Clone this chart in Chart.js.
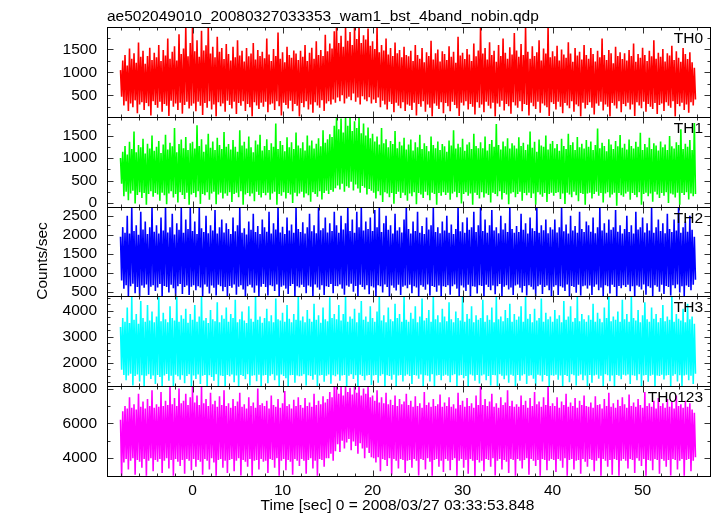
<!DOCTYPE html>
<html>
<head>
<meta charset="utf-8">
<title>ae502049010 WAM light curve</title>
<script src="https://cdn.jsdelivr.net/npm/chart.js@4/dist/chart.umd.min.js"></script>
<style>
  html, body { margin: 0; padding: 0; background: #fff; }
  #wrap { width: 717px; height: 516px; }
</style>
</head>
<body>
<div id="wrap"><canvas id="lc" width="717" height="516"></canvas></div>
<script>
// ---- data (0.25 s bins, upper / lower extent of the noisy curve) ----
const TITLE = 'ae502049010_20080327033353_wam1_bst_4band_nobin.qdp';
const X_TITLE = 'Time [sec] 0 = 2008/03/27 03:33:53.848';
const Y_TITLE = 'Counts/sec';
const PANELS = ['TH0', 'TH1', 'TH2', 'TH3', 'TH0123'];
const T_START = -8;    // first bin [sec]
const T_STEP = 0.25;   // bin width [sec]

const X_RANGE = [-9.5, 57.6];
const X_TICKS = [0, 10, 20, 30, 40, 50];

const th0Range = [31, 1991];
const th1Range = [-81, 1918];
const th2Range = [386, 2738];
const th3Range = [1099, 4559];
const th0123Range = [2974, 8133];

const th0Ticks = [500, 1000, 1500];
const th1Ticks = [0, 500, 1000, 1500];
const th2Ticks = [500, 1000, 1500, 2000, 2500];
const th3Ticks = [2000, 3000, 4000];
const th0123Ticks = [4000, 6000, 8000];

const th0Hi = [
  1050, 1260, 1380, 1150, 1520, 1300, 1420, 1210, 1650, 1340, 1470, 1190, 1360, 1540, 1270, 1430,
  1330, 1600, 1250, 1490, 1370, 1740, 1300, 1450, 1570, 1260, 1830, 1400, 1520, 1990, 1350, 1640,
  1990, 1460, 1700, 1340, 1910, 1480, 1590, 1990, 1410, 1560, 1330, 1780, 1450, 1530, 1290, 1620,
  1400, 1260, 1560, 1330, 1700, 1370, 1470, 1240, 1530, 1350, 1410, 1640, 1280, 1490, 1360, 1450,
  1310, 1740, 1390, 1250, 1510, 1360, 1870, 1300, 1440, 1220, 1560, 1380, 1320, 1480, 1410, 1270,
  1470, 1340, 1600, 1250, 1430, 1540, 1300, 1680, 1380, 1490, 1360, 1820, 1460, 1630, 1520, 1900,
  1990, 1640, 1800, 1560, 1990, 1690, 1880, 1600, 1990, 1730, 1990, 1640, 1810, 1720, 1960, 1580,
  1680, 1510, 1990, 1440, 1600, 1480, 1740, 1390, 1530, 1360, 1650, 1420, 1490, 1330, 1560, 1380,
  1350, 1470, 1250, 1600, 1380, 1300, 1530, 1220, 1440, 1360, 1690, 1280, 1420, 1500, 1240, 1460,
  1400, 1270, 1570, 1340, 1450, 1210, 1780, 1370, 1430, 1290, 1510, 1390, 1250, 1630, 1350, 1480,
  1990, 1410, 1530, 1280, 1660, 1380, 1470, 1230, 1600, 1360, 1740, 1430, 1300, 1550, 1390, 1860,
  1480, 1340, 1620, 1380, 1990, 1450, 1300, 1570, 1360, 1440, 1700, 1260, 1520, 1410, 1990, 1330,
  1460, 1350, 1580, 1260, 1500, 1390, 1320, 1660, 1410, 1230, 1530, 1370, 1450, 1280, 1600, 1380,
  1300, 1530, 1400, 1240, 1470, 1330, 1740, 1380, 1270, 1490, 1420, 1200, 1560, 1360, 1440, 1290,
  1420, 1260, 1490, 1360, 1630, 1230, 1400, 1320, 1540, 1380, 1250, 1470, 1350, 1700, 1300, 1430,
  1340, 1510, 1240, 1420, 1370, 1580, 1270, 1460, 1320, 1230, 1530, 1400, 1290, 1440, 1220, 1100
];
const th0Lo = [
  470, 280, 370, 160, 320, 240, 390, 110, 300, 350, 180, 330, 260, 60, 370, 290,
  230, 360, 140, 310, 270, 50, 380, 250, 320, 180, 340, 100, 290, 360, 210, 270,
  320, 150, 360, 270, 70, 330, 230, 370, 190, 300, 40, 350, 260, 320, 140, 380,
  290, 210, 360, 90, 330, 270, 370, 160, 310, 240, 40, 350, 280, 200, 340, 250,
  360, 130, 300, 320, 180, 370, 260, 60, 340, 290, 210, 380, 150, 310, 270, 40,
  330, 240, 370, 190, 300, 120, 350, 280, 230, 390, 160, 320, 370, 300, 410, 340,
  450, 370, 500, 320, 430, 470, 390, 540, 360, 450, 300, 480, 410, 370, 460, 320,
  410, 330, 450, 240, 380, 300, 190, 360, 310, 130, 340, 270, 220, 350, 160, 300,
  270, 180, 340, 60, 310, 250, 370, 140, 300, 230, 40, 320, 270, 200, 350, 110,
  330, 260, 150, 360, 290, 220, 50, 340, 280, 370, 190, 310, 250, 80, 350, 230,
  300, 130, 360, 270, 210, 340, 40, 320, 250, 380, 170, 310, 260, 100, 350, 280,
  230, 370, 150, 310, 290, 60, 340, 260, 200, 360, 120, 320, 280, 240, 50, 350,
  310, 190, 360, 250, 110, 330, 280, 220, 370, 140, 300, 260, 40, 340, 210, 290,
  350, 230, 80, 320, 270, 360, 170, 300, 250, 40, 330, 280, 210, 370, 130, 310,
  260, 340, 190, 300, 50, 350, 280, 220, 360, 140, 310, 250, 200, 330, 90, 290,
  320, 160, 350, 270, 230, 370, 40, 310, 260, 340, 180, 300, 120, 350, 280, 410
];

const th1Hi = [
  1000, 1140, 1270, 1080, 1360, 1200, 1590, 1130, 1290, 1240, 1430, 1100, 1320, 1210, 1500, 1160,
  1250, 1380, 1110, 1300, 1520, 1190, 1340, 1260, 1670, 1130, 1310, 1410, 1220, 1470, 1180, 1330,
  1360, 1210, 1730, 1270, 1420, 1140, 1300, 1540, 1230, 1370, 1180, 1450, 1290, 1200, 1580, 1250,
  1310, 1190, 1400, 1250, 1140, 1620, 1280, 1360, 1210, 1480, 1240, 1130, 1390, 1300, 1520, 1170,
  1270, 1420, 1180, 1330, 1250, 1770, 1200, 1380, 1290, 1150, 1460, 1240, 1350, 1200, 1570, 1280,
  1220, 1350, 1170, 1500, 1280, 1390, 1210, 1320, 1440, 1260, 1620, 1340, 1420, 1530, 1470, 1720,
  1900, 1640, 1880, 1570, 1900, 1720, 1900, 1600, 1820, 1670, 1900, 1550, 1770, 1500, 1680, 1440,
  1540, 1370, 1480, 1300, 1670, 1330, 1420, 1240, 1380, 1310, 1600, 1220, 1360, 1280, 1450, 1190,
  1300, 1410, 1170, 1350, 1240, 1520, 1200, 1330, 1270, 1150, 1480, 1290, 1220, 1370, 1180, 1310,
  1260, 1140, 1390, 1280, 1620, 1210, 1320, 1240, 1430, 1160, 1300, 1350, 1200, 1540, 1270, 1220,
  1350, 1220, 1480, 1170, 1310, 1400, 1250, 1760, 1290, 1190, 1370, 1260, 1440, 1210, 1330, 1280,
  1210, 1460, 1270, 1340, 1180, 1300, 1590, 1230, 1360, 1140, 1410, 1280, 1250, 1500, 1190, 1320,
  1380, 1220, 1310, 1160, 1430, 1270, 1200, 1540, 1290, 1350, 1180, 1470, 1240, 1320, 1210, 1400,
  1250, 1370, 1180, 1290, 1660, 1220, 1340, 1270, 1150, 1420, 1300, 1200, 1380, 1260, 1510, 1230,
  1320, 1190, 1410, 1270, 1210, 1360, 1250, 1560, 1180, 1310, 1240, 1450, 1200, 1330, 1280, 1170,
  1370, 1240, 1300, 1180, 1490, 1260, 1210, 1350, 1290, 1640, 1200, 1320, 1250, 1400, 1180, 1780
];
const th1Lo = [
  430, 150, 250, 60, 210, 270, -10, 180, 240, 110, 220, -40, 200, 260, 140, 220,
  190, 50, 230, 170, -30, 210, 260, 120, 200, 10, 240, 180, 90, 230, -40, 190,
  220, 130, 260, -20, 200, 170, 240, 70, 210, 250, -30, 190, 230, 100, 210, 160,
  240, 20, 200, 230, 130, 260, -40, 190, 220, 150, 210, 40, 250, 180, 120, 220,
  170, 230, 70, 210, 250, -40, 200, 160, 240, 100, 220, 190, 0, 230, 150, 210,
  250, 120, 210, 170, 30, 240, 200, 140, 260, 80, 220, 270, 200, 290, 250, 330,
  390, 300, 430, 250, 370, 340, 470, 280, 410, 320, 230, 380, 340, 190, 310, 270,
  230, 100, 260, 170, 20, 240, 210, 130, 220, -20, 200, 250, 110, 230, 170, 50,
  210, 150, 240, -30, 220, 190, 110, 250, 170, 60, 230, 200, -40, 220, 160, 240,
  180, 230, 70, 210, 250, 130, 220, -10, 200, 240, 160, 210, -40, 230, 180, 100,
  240, 120, 210, 180, 10, 230, 200, 150, 260, 80, 220, 190, -30, 210, 240, 130,
  200, 250, 50, 220, 170, 230, 110, 210, -40, 240, 190, 140, 220, 20, 200, 230,
  160, 220, 240, 90, 210, -20, 230, 190, 130, 250, 170, 40, 220, 200, -40, 210,
  230, 100, 200, 250, 160, 220, 10, 210, 240, 120, 190, 230, -60, 220, 170, 140,
  210, 250, 70, 220, 180, 130, 240, -40, 200, 230, 150, 210, 30, 250, 190, 110,
  220, 160, 240, 0, 210, 190, 120, 230, -40, 220, 180, 240, 80, 210, 150, 200
];

const th2Hi = [
  1950, 2200, 2050, 2500, 2030, 2730, 2100, 2250, 2000, 2600, 2140, 2350, 2020, 2200, 2730, 2080,
  2250, 2030, 2450, 2110, 2730, 2060, 2200, 2550, 2010, 2300, 2130, 2700, 2050, 2400, 2150, 2730,
  2100, 2350, 2020, 2730, 2170, 2070, 2500, 2040, 2250, 2110, 2650, 2030, 2200, 2400, 2060, 2300,
  2150, 2020, 2450, 2090, 2250, 2700, 2050, 2170, 2010, 2350, 2130, 2550, 2070, 2230, 2020, 2400,
  2200, 2080, 2600, 2030, 2300, 2140, 2730, 2060, 2210, 2020, 2450, 2110, 2270, 2050, 2700, 2150,
  2070, 2330, 2030, 2200, 2550, 2090, 2250, 2040, 2730, 2120, 2170, 2450, 2060, 2300, 2100, 2600,
  2250, 2050, 2500, 2140, 2300, 2730, 2100, 2400, 2050, 2600, 2200, 2730, 2110, 2350, 2150, 2450,
  2100, 2650, 2200, 2730, 2070, 2300, 2500, 2130, 2250, 2030, 2550, 2110, 2200, 2060, 2400, 2730,
  2150, 2030, 2350, 2100, 2600, 2050, 2230, 2020, 2450, 2140, 2250, 2700, 2070, 2200, 2040, 2350,
  2110, 2500, 2050, 2270, 2020, 2150, 2730, 2090, 2330, 2050, 2450, 2130, 2200, 2600, 2070, 2250,
  2730, 2100, 2400, 2050, 2250, 2650, 2110, 2200, 2040, 2500, 2140, 2300, 2070, 2730, 2150, 2050,
  2230, 2070, 2550, 2130, 2300, 2030, 2450, 2170, 2100, 2700, 2050, 2250, 2120, 2400, 2040, 2200,
  2140, 2400, 2060, 2200, 2730, 2090, 2270, 2030, 2500, 2110, 2230, 2050, 2600, 2150, 2070, 2350,
  2250, 2080, 2450, 2040, 2200, 2730, 2110, 2300, 2050, 2400, 2130, 2200, 2650, 2080, 2250, 2030,
  2150, 2500, 2070, 2250, 2030, 2600, 2140, 2200, 2450, 2060, 2300, 2110, 2700, 2050, 2200, 2400,
  2100, 2300, 2040, 2550, 2150, 2070, 2400, 2110, 2730, 2050, 2200, 2350, 2080, 2500, 2130, 1950
];
const th2Lo = [
  800, 590, 680, 400, 650, 720, 470, 630, 400, 670, 610, 700, 420, 640, 680, 530,
  620, 710, 400, 660, 630, 490, 690, 600, 400, 650, 710, 450, 630, 670, 420, 640,
  680, 550, 650, 620, 400, 700, 640, 460, 670, 610, 410, 690, 650, 520, 630, 400,
  660, 610, 700, 430, 640, 680, 570, 400, 650, 690, 620, 480, 670, 400, 640, 710,
  630, 410, 680, 650, 530, 700, 400, 640, 670, 590, 450, 660, 710, 400, 650, 620,
  690, 630, 470, 670, 640, 400, 700, 620, 560, 680, 420, 650, 630, 710, 470, 660,
  650, 700, 590, 430, 670, 640, 720, 510, 660, 400, 690, 630, 570, 680, 440, 650,
  620, 400, 680, 650, 490, 700, 630, 400, 670, 610, 540, 690, 420, 640, 670, 600,
  690, 470, 650, 620, 400, 680, 640, 560, 700, 410, 660, 630, 510, 670, 400, 650,
  630, 680, 430, 650, 700, 590, 400, 670, 620, 530, 690, 400, 650, 640, 460, 680,
  660, 400, 690, 630, 550, 670, 440, 650, 710, 400, 640, 680, 570, 620, 420, 670,
  700, 610, 490, 660, 410, 680, 640, 570, 400, 650, 690, 450, 630, 670, 550, 400,
  640, 680, 420, 650, 620, 530, 700, 400, 660, 630, 480, 690, 410, 650, 670, 590,
  670, 420, 640, 700, 550, 620, 400, 680, 650, 460, 690, 630, 400, 660, 600, 680,
  630, 690, 520, 650, 400, 670, 640, 570, 700, 430, 650, 610, 400, 680, 640, 510,
  690, 450, 660, 630, 410, 680, 600, 700, 490, 650, 400, 670, 630, 550, 690, 820
];

const th3Hi = [
  3380, 3730, 3580, 4130, 3530, 4550, 3660, 3880, 3500, 4380, 3730, 3580, 4230, 3630, 3980, 3560,
  3780, 4530, 3600, 3930, 3680, 3560, 4180, 3730, 3630, 4550, 3580, 3830, 3700, 4080, 3540, 3880,
  3660, 4230, 3580, 3780, 4550, 3630, 3730, 3530, 4030, 3680, 3600, 4330, 3560, 3830, 3700, 4130,
  3580, 3880, 3730, 4430, 3560, 3680, 3980, 3630, 3530, 4180, 3700, 3580, 4550, 3660, 3780, 3540,
  3730, 4080, 3600, 3830, 3560, 4480, 3680, 3630, 3930, 3580, 4230, 3700, 3560, 3880, 3660, 4550,
  3630, 3780, 3560, 4030, 3700, 3580, 4280, 3660, 3830, 3540, 4130, 3680, 3600, 4530, 3730, 3880,
  3680, 4230, 3630, 3880, 4550, 3580, 3780, 3700, 4080, 3560, 3930, 4380, 3660, 3780, 3580, 4180,
  3730, 3580, 3980, 4550, 3630, 3830, 3560, 4130, 3680, 3600, 4280, 3730, 3880, 3580, 4550, 3660,
  3580, 3930, 3700, 4180, 3560, 3780, 4480, 3630, 3730, 4030, 3580, 4550, 3680, 3830, 3560, 4080,
  3780, 3600, 4330, 3680, 3560, 3980, 3730, 3630, 4550, 3580, 3880, 3700, 4180, 3560, 3830, 3660,
  3730, 4430, 3580, 3830, 3660, 4130, 3560, 4550, 3680, 3780, 3600, 4030, 3730, 4280, 3580, 3880,
  3660, 3780, 4180, 3580, 4550, 3700, 3880, 3560, 4080, 3630, 3730, 4480, 3580, 3930, 3680, 3780,
  3580, 4030, 3700, 3830, 3560, 4380, 3660, 3780, 4180, 3580, 3730, 4550, 3600, 3880, 3680, 3580,
  3830, 3660, 4280, 3580, 3930, 3700, 3560, 4130, 3730, 4550, 3600, 3780, 3660, 3980, 3580, 4430,
  3680, 3880, 3580, 4550, 3730, 3630, 4030, 3560, 3830, 4330, 3680, 3580, 4130, 3700, 3880, 3560,
  3730, 4230, 3600, 3780, 3660, 4550, 3580, 3880, 3700, 3630, 4080, 3560, 4280, 3680, 3780, 3500
];
const th3Lo = [
  1730, 1530, 1330, 1510, 1580, 1130, 1490, 1550, 1280, 1520, 1110, 1500, 1560, 1380, 1510, 1180,
  1530, 1450, 1110, 1510, 1570, 1310, 1500, 1110, 1540, 1480, 1350, 1520, 1210, 1490, 1560, 1110,
  1510, 1380, 1550, 1180, 1500, 1530, 1110, 1520, 1450, 1310, 1560, 1110, 1510, 1490, 1110, 1530,
  1480, 1550, 1250, 1510, 1110, 1530, 1490, 1370, 1560, 1130, 1500, 1520, 1290, 1540, 1110, 1510,
  1530, 1210, 1500, 1560, 1330, 1510, 1110, 1550, 1490, 1410, 1110, 1520, 1530, 1230, 1510, 1480,
  1500, 1560, 1130, 1520, 1490, 1350, 1540, 1110, 1510, 1530, 1270, 1500, 1550, 1190, 1520, 1480,
  1550, 1310, 1510, 1530, 1110, 1500, 1560, 1380, 1520, 1110, 1540, 1490, 1330, 1510, 1530, 1150,
  1510, 1530, 1230, 1500, 1560, 1110, 1520, 1490, 1350, 1540, 1110, 1510, 1530, 1280, 1500, 1550,
  1490, 1180, 1530, 1510, 1390, 1550, 1110, 1520, 1500, 1280, 1560, 1110, 1510, 1530, 1330, 1500,
  1540, 1500, 1250, 1520, 1560, 1110, 1510, 1530, 1410, 1490, 1110, 1550, 1510, 1310, 1530, 1200,
  1510, 1550, 1330, 1490, 1130, 1530, 1520, 1110, 1560, 1500, 1370, 1510, 1230, 1540, 1500, 1110,
  1530, 1310, 1510, 1560, 1180, 1500, 1520, 1390, 1110, 1540, 1510, 1280, 1530, 1490, 1110, 1520,
  1500, 1540, 1350, 1510, 1110, 1530, 1490, 1250, 1560, 1520, 1130, 1500, 1550, 1330, 1510, 1110,
  1530, 1230, 1510, 1540, 1390, 1500, 1110, 1560, 1520, 1290, 1510, 1110, 1530, 1500, 1370, 1540,
  1510, 1550, 1180, 1520, 1500, 1330, 1560, 1110, 1510, 1530, 1270, 1500, 1540, 1110, 1510, 1490,
  1540, 1360, 1510, 1530, 1110, 1500, 1560, 1280, 1520, 1110, 1510, 1540, 1330, 1500, 1180, 1580
];

const th0123Hi = [
  6200, 6700, 7000, 6850, 7500, 6900, 7100, 6800, 7700, 6950, 7250, 6850, 7400, 7000, 7900, 6900,
  7100, 6950, 7800, 7000, 7300, 7050, 8120, 7100, 7450, 7000, 8000, 7150, 7300, 7700, 7050, 7500,
  8100, 7200, 7600, 7050, 8120, 7150, 7400, 7000, 7750, 7100, 7300, 6950, 7550, 7050, 7900, 7000,
  7150, 6900, 7400, 7000, 7250, 7750, 6950, 7100, 6850, 7500, 7000, 7200, 6900, 8000, 7050, 7150,
  7000, 7300, 6850, 7600, 7050, 6950, 7400, 6900, 7150, 7850, 7000, 7100, 6850, 7350, 7000, 7500,
  7050, 6900, 7450, 7000, 7200, 6950, 7700, 7050, 7300, 7100, 7550, 7200, 7400, 7800, 7500, 8100,
  8120, 7700, 8120, 7600, 8120, 7800, 8050, 7650, 8120, 7750, 8120, 7600, 8000, 7700, 8120, 7500,
  7600, 7300, 7900, 7200, 7500, 7150, 7750, 7100, 7350, 7050, 7600, 7000, 7400, 7100, 7250, 7700,
  7050, 7300, 6950, 7550, 7000, 7150, 6900, 7800, 7050, 7200, 6950, 7400, 7000, 7100, 7650, 6950,
  7200, 7000, 7500, 6950, 7100, 6850, 7750, 7050, 7300, 6950, 7450, 7000, 7150, 6900, 7600, 7050,
  8120, 7050, 7400, 7000, 7250, 7700, 6950, 7150, 6900, 7500, 7050, 7200, 7900, 7000, 7300, 6950,
  7100, 6950, 7600, 7050, 7300, 6900, 7450, 7000, 7800, 7100, 7250, 6950, 7500, 7050, 8120, 7000,
  7150, 7000, 7500, 6900, 7250, 7050, 7700, 6950, 7200, 7000, 7450, 6900, 7300, 7050, 7600, 7000,
  6950, 7200, 6900, 7550, 7050, 7100, 6850, 7400, 7000, 7750, 6950, 7150, 6900, 7350, 7000, 7500,
  7100, 6900, 7650, 7000, 7200, 6950, 7400, 7050, 6900, 7800, 7000, 7150, 6950, 7300, 6850, 7450,
  7000, 7150, 6900, 7400, 6950, 7250, 6850, 7600, 7000, 7100, 6900, 7300, 6950, 7150, 6800, 6600
];
const th0123Lo = [
  2990, 3750, 3950, 3350, 3850, 4000, 3050, 3900, 3800, 3450, 3950, 2990, 3850, 4000, 3250, 3900,
  3800, 3950, 3150, 3850, 4000, 3400, 3900, 2990, 3950, 3800, 3550, 3900, 3100, 3950, 3850, 3300,
  3950, 3500, 3900, 3800, 3050, 3950, 3850, 3350, 4000, 3750, 2990, 3900, 3950, 3450, 3850, 3150,
  3900, 3950, 3250, 3850, 4000, 3000, 3900, 3800, 3500, 3950, 2990, 3850, 3900, 3350, 3950, 3800,
  3850, 3150, 3950, 3900, 3450, 4000, 2990, 3850, 3950, 3300, 3900, 3800, 3050, 3950, 3850, 3550,
  3950, 3850, 3100, 3900, 4000, 3400, 3850, 2990, 3950, 3900, 3500, 4000, 4000, 4250, 3850, 4400,
  4800, 4350, 5000, 4550, 4900, 5100, 4450, 4950, 4700, 4250, 4850, 4550, 4000, 4600, 4300, 4050,
  4000, 3750, 4050, 3250, 3950, 3900, 3550, 4000, 3050, 3950, 3850, 3400, 3950, 3900, 3150, 3850,
  3900, 3450, 3950, 3850, 3000, 3950, 3900, 3350, 4000, 3800, 2990, 3900, 3950, 3500, 3850, 3200,
  3950, 3850, 3300, 3900, 4000, 2990, 3850, 3950, 3450, 3900, 3100, 3950, 3850, 2990, 3900, 3750,
  3850, 3250, 3950, 3900, 3500, 4000, 3000, 3850, 3950, 3350, 3900, 3800, 3150, 3950, 3900, 2990,
  3950, 3850, 3400, 3900, 4000, 3050, 3950, 3850, 3550, 3900, 2990, 3950, 3900, 3300, 3850, 3950,
  3900, 3200, 3950, 3850, 3450, 4000, 2990, 3900, 3950, 3350, 3850, 3900, 3100, 3950, 3800, 3500,
  3950, 3900, 3250, 3850, 4000, 2990, 3950, 3850, 3500, 3900, 3050, 3950, 3900, 2990, 3850, 3950,
  3850, 3400, 3950, 3900, 3150, 4000, 3850, 3550, 3950, 2990, 3900, 3850, 3300, 3950, 3900, 3100,
  3950, 3850, 3500, 3900, 3000, 3950, 3900, 3350, 3850, 3950, 2990, 3900, 3950, 3250, 3850, 4050
];

// ---- styling ----
const COLORS = ['#ff0000', '#00ff00', '#0000ff', '#00ffff', '#ff00ff'];
const MINOR_STEP = [250, 250, 250, 250, 1000];
const FONT = '"Liberation Sans", Arial, Helvetica, sans-serif';
const FONT_SIZE = 15.5;

const hiSets = [th0Hi, th1Hi, th2Hi, th3Hi, th0123Hi];
const loSets = [th0Lo, th1Lo, th2Lo, th3Lo, th0123Lo];
const ranges = [th0Range, th1Range, th2Range, th3Range, th0123Range];
const majorTicks = [th0Ticks, th1Ticks, th2Ticks, th3Ticks, th0123Ticks];

// each bin: a stroke up to its max followed by a stroke down to its min
function zigzag(hi, lo) {
    const pts = [];
    hi.forEach((h, i) => {
        const t = T_START + i * T_STEP;
        pts.push({ x: t, y: h });
        pts.push({ x: t + T_STEP / 2, y: lo[i] });
    });
    return pts;
}

// QDP-like frame: boxes, inward ticks on all sides, labels
const qdpFrame = {
    id: 'qdpFrame',
    afterDatasetsDraw(chart) {
        const ctx = chart.ctx;
        const area = chart.chartArea;
        const xs = chart.scales.x;
        ctx.save();
        ctx.lineWidth = 1;

        PANELS.forEach((name, i) => {
            const ys = chart.scales['y' + i];
            const top = Math.round(ys.top) + 0.5;
            const bot = Math.round(ys.bottom) + 0.5;
            const left = Math.round(area.left) + 0.5;
            const right = Math.round(area.right) - 0.5;

            ctx.strokeStyle = '#333';
            ctx.beginPath();
            const step = MINOR_STEP[i];
            for (let v = Math.ceil(ys.min / step) * step; v <= ys.max; v += step) {
                const len = majorTicks[i].includes(v) ? 6 : 3;
                const py = Math.round(ys.getPixelForValue(v)) + 0.5;
                ctx.moveTo(left, py); ctx.lineTo(left + len, py);
                ctx.moveTo(right, py); ctx.lineTo(right - len, py);
            }
            for (let v = Math.ceil(xs.min / 2) * 2; v <= xs.max; v += 2) {
                const len = v % 10 === 0 ? 6 : 3;
                const px = Math.round(xs.getPixelForValue(v)) + 0.5;
                ctx.moveTo(px, top); ctx.lineTo(px, top + len);
                ctx.moveTo(px, bot); ctx.lineTo(px, bot - len);
            }
            ctx.stroke();

            ctx.strokeStyle = '#000';
            ctx.strokeRect(left, top, right - left, bot - top);

            ctx.fillStyle = '#000';
            ctx.font = FONT_SIZE + 'px ' + FONT;
            ctx.textAlign = 'right';
            ctx.textBaseline = 'alphabetic';
            ctx.fillText(name, area.right - 8, ys.top + 16);
        });

        ctx.fillStyle = '#000';
        ctx.font = FONT_SIZE + 'px ' + FONT;
        ctx.textAlign = 'left';
        ctx.fillText(TITLE, area.left, 21);

        ctx.textAlign = 'center';
        ctx.fillText(X_TITLE, 397.5, 510);

        ctx.translate(47, 261);
        ctx.rotate(-Math.PI / 2);
        ctx.fillText(Y_TITLE, 0, 0);
        ctx.restore();
    }
};

const scales = {
    x: {
        type: 'linear',
        position: 'bottom',
        min: X_RANGE[0],
        max: X_RANGE[1],
        grid: { display: false, drawTicks: false },
        border: { display: false },
        ticks: {
            color: '#000', padding: 5, autoSkip: false, maxRotation: 0,
            font: { family: FONT, size: FONT_SIZE },
            callback: v => String(v)
        },
        afterBuildTicks: s => { s.ticks = X_TICKS.map(v => ({ value: v })); },
        afterFit: s => { s.height = 40; }
    }
};
PANELS.forEach((name, i) => {
    scales['y' + i] = {
        type: 'linear',
        position: 'left',
        stack: 'panels',
        stackWeight: 1,
        weight: PANELS.length - i,
        min: ranges[i][0],
        max: ranges[i][1],
        grid: { display: false, drawTicks: false },
        border: { display: false },
        ticks: {
            color: '#000', padding: 10, autoSkip: false,
            font: { family: FONT, size: FONT_SIZE },
            callback: v => String(v)
        },
        afterBuildTicks: s => { s.ticks = majorTicks[i].map(v => ({ value: v })); },
        afterFit: s => { s.width = 107; }
    };
});

new Chart('lc', {
    type: 'line',
    data: {
        datasets: PANELS.map((name, i) => ({
            label: name,
            data: zigzag(hiSets[i], loSets[i]),
            yAxisID: 'y' + i,
            borderColor: COLORS[i],
            borderWidth: 1.6,
            borderJoinStyle: 'bevel',
            pointRadius: 0,
            fill: false,
            tension: 0
        }))
    },
    options: {
        responsive: false,
        animation: false,
        events: [],
        devicePixelRatio: 1,
        layout: { padding: { top: 27, right: 6, left: 0, bottom: 0 } },
        plugins: { legend: { display: false }, tooltip: { enabled: false }, title: { display: false } },
        scales: scales
    },
    plugins: [qdpFrame]
});
</script>
</body>
</html>
